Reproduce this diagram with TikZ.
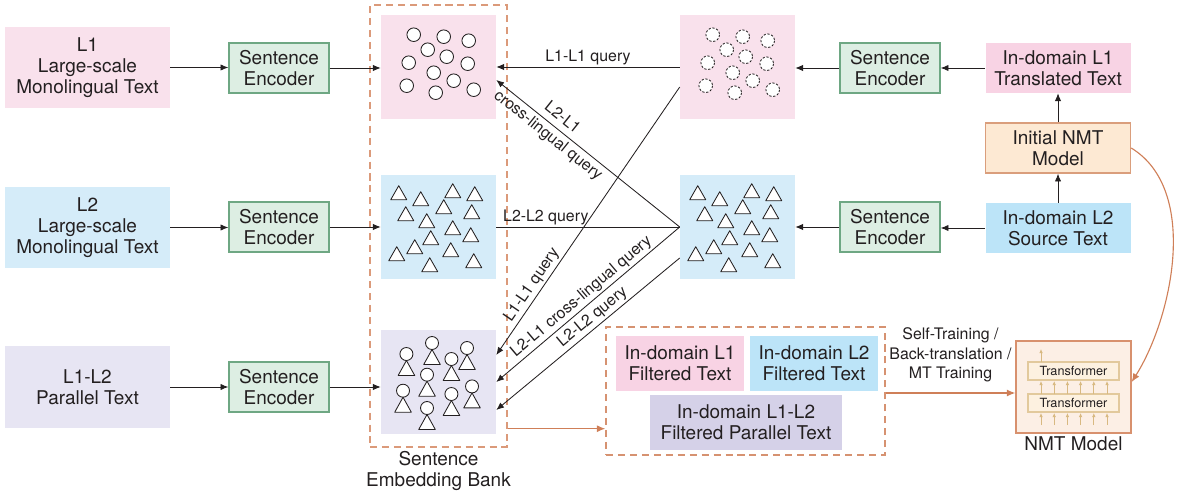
\documentclass[tikz,border=0pt]{standalone}
\usepackage{fontspec}
\setmainfont{TeX Gyre Heros}
\usepackage{xcolor}
\definecolor{ink}{HTML}{231F20}
\definecolor{lonepink}{HTML}{F9E1EC}
\definecolor{ltwoblue}{HTML}{D5ECF9}
\definecolor{parlav}{HTML}{E7E5F3}
\definecolor{indpink}{HTML}{F8D3E4}
\definecolor{indblue}{HTML}{BCE4F8}
\definecolor{indlav}{HTML}{D5D1E8}
\definecolor{encfill}{HTML}{DDEEE3}
\definecolor{encline}{HTML}{6EA783}
\definecolor{initfill}{HTML}{FDE9D3}
\definecolor{initline}{HTML}{DA9E7C}
\definecolor{nmtfill}{HTML}{FCEFE5}
\definecolor{nmtline}{HTML}{D8916E}
\definecolor{trffill}{HTML}{FDF1E0}
\definecolor{trfline}{HTML}{E2C99C}
\definecolor{trfarrow}{HTML}{D8B981}
\definecolor{bankor}{HTML}{DB9A7A}
\definecolor{flowor}{HTML}{CF7F58}
\usepackage{tikz}
\usetikzlibrary{arrows.meta,calc,positioning}

\begin{document}
\begin{tikzpicture}[x=0.025cm,y=-0.025cm,declare function={%
			u=0.025cm;
		}
		]%
		\tikzset{
			box/.style={inner sep=0pt,align=center,text=ink,font=\fontsize{13.5}{15}\selectfont},
			srcbox/.style={box,minimum width=165*u,minimum height=81*u},
			encbox/.style={box,fill=encfill,draw=encline,line width=1pt,minimum width=100*u,minimum height=50*u},
			embbox/.style={inner sep=0pt,minimum width=115*u,minimum height=104*u},
			domainbox/.style={box,minimum width=145*u,minimum height=50*u},
			filtbox/.style={box,minimum width=128*u,minimum height=55*u},
			dashbox/.style={draw=bankor,line width=1pt,dash pattern=on 5pt off 3.5pt,inner sep=0pt},
			arr/.style={draw=ink,line width=0.6pt,-{Latex[length=5.5pt,width=4.5pt]}},
			oarr/.style={draw=flowor,line width=0.8pt,-{Latex[length=6pt,width=5pt]}},
			qlabel/.style={text=ink,inner sep=1.5pt,align=center,font=\fontsize{11.3}{12.5}\selectfont},
			dotcloud/.pic={
				\foreach \a/\b in {33/20,63/22,88/26,47/35,66/42,28/48,87/49,53/58,73/66,26/71,55/78,93/75}{%
					\path[draw=ink,fill=white,line width=0.6pt,pic actions] (\a,\b) circle (6.8);
				}
			},
			tricloud/.pic={
				\foreach \a/\b in {18/20,40/26,72/18,94/21,63/34,25/41,91/39,46/48,72/55,90/62,50/65,34/74,16/81,70/77,49/92,93/88}{%
					\path[shift={(\a,\b)},draw=ink,fill=white,line width=0.6pt,line join=round] (-8,5)--(0,-9)--(8,5)--cycle;
				}
			},
			pairscloud/.pic={
				\foreach \a/\b in {25.7/24.3,51.3/13.3,70.7/29.3,86.3/18.3,46.3/45,22.3/61,70.7/64.3,91.3/56.7,46.3/78.3}{%
					\path[shift={(\a,\b)},draw=ink,fill=white,line width=0.6pt] (0,0) circle (6.5);
					\path[shift={(\a,\b)},draw=ink,fill=white,line width=0.6pt,line join=round] (0,6.5)--(8.3,21.5)--(-8.3,21.5)--cycle;
				}
			}
		}
		\useasboundingbox (0,0) rectangle (1184,491);
		%%%the embedding bank
		\node[dashbox,minimum width=137*u,minimum height=442*u] (bank) at (438.5,226) {};
		\node[box,anchor=north] (banklabel) at ($(bank.south)+(0,3)$) {Sentence\\Embedding Bank};
		\node[embbox,fill=lonepink] (embA) at (438.5,67) {};
		\node[embbox,fill=ltwoblue] (embB) at (438.5,227) {};
		\node[embbox,fill=parlav] (embC) at (438.5,382) {};
		\path (embA.north west) pic {dotcloud};
		\path (embB.north west) pic {tricloud};
		\path (embC.north west) pic {pairscloud};
		%%%left column: corpora and encoders
		\node[srcbox,fill=lonepink] (srcA) at (87.5,67.5) {L1\\Large-scale\\Monolingual Text};
		\node[srcbox,fill=ltwoblue] (srcB) at (87.5,227.5) {L2\\Large-scale\\Monolingual Text};
		\node[srcbox,fill=parlav] (srcC) at (87.5,387) {L1-L2\\Parallel Text};
		\node[encbox] (encA) at (279,68) {Sentence\\Encoder};
		\node[encbox] (encB) at (279,227) {Sentence\\Encoder};
		\node[encbox] (encC) at (279,387) {Sentence\\Encoder};
		\foreach \s/\e/\m in {srcA/encA/embA,srcB/encB/embB,srcC/encC/embC}{%
			\draw[arr] (\s.east) -- (\e.west |- \s.east);
			\draw[arr] (\e.east) -- (\m.west |- \e.east);
		}
		%%%right column: in-domain queries
		\node[embbox,fill=lonepink] (qA) at (737.5,67) {};
		\node[embbox,fill=ltwoblue] (qB) at (737.5,227) {};
		\path (qA.north west) pic[dash pattern=on 1.6pt off 1.2pt] {dotcloud};
		\path (qB.north west) pic {tricloud};
		\node[encbox] (encD) at (890,68) {Sentence\\Encoder};
		\node[encbox] (encE) at (890,227) {Sentence\\Encoder};
		\node[domainbox,fill=indpink] (tgtL1) at (1058,68) {In-domain L1\\Translated Text};
		\node[domainbox,fill=initfill,draw=initline,line width=1pt] (initNMT) at (1058,148) {Initial NMT\\Model};
		\node[domainbox,fill=indblue] (srcL2) at (1058,228) {In-domain L2\\Source Text};
		\draw[arr] (srcL2) -- (initNMT);
		\draw[arr] (initNMT) -- (tgtL1);
		\draw[arr] (tgtL1.west) -- (encD.east |- tgtL1.west);
		\draw[arr] (encD.west) -- (qA.east |- encD.west);
		\draw[arr] (srcL2.west) -- (encE.east |- srcL2.west);
		\draw[arr] (encE.west) -- (qB.east |- encE.west);
		%%%queries into the bank
		\draw[arr] (qA.west) -- node[qlabel,above,pos=0.5] {L1-L1 query} (embA.east);
		\draw[arr] (qB.west) -- node[qlabel,sloped,pos=0.68,font=\fontsize{11.3}{16}\selectfont] {L2-L1\\cross-lingual query} ($(embA.east)+(0,13)$);
		\draw[draw=ink,line width=0.6pt] (qB.west) -- node[qlabel,above,pos=0.73] {L2-L2 query} (embB.east);
		\draw[arr] ($(qA.west)+(0,20)$) -- node[qlabel,sloped,above,pos=0.76] {L1-L1 query} ($(embC.east)+(0,-27)$);
		\draw[arr] (qB.west) -- node[qlabel,sloped,above,pos=0.5] {L2-L1 cross-lingual query} (embC.east);
		\draw[arr] ($(qB.west)+(0,31)$) -- node[qlabel,sloped,above,pos=0.44] {L2-L2 query} ($(embC.east)+(0,28)$);
		%%%filtered in-domain data
		\node[dashbox,draw=flowor!85,minimum width=279*u,minimum height=128*u] (fltbox) at (745.5,391) {};
		\node[filtbox,fill=indpink] (fltA) at (680,363.5) {In-domain L1\\Filtered Text};
		\node[filtbox,fill=indblue] (fltB) at (814,363.5) {In-domain L2\\Filtered Text};
		\node[filtbox,fill=indlav,minimum width=192*u] (fltC) at (746,422.5) {In-domain L1-L2\\Filtered Parallel Text};
		\coordinate (bankout) at ($(bank.south east)+(0,-19)$);
		\draw[oarr] (bankout) -- (bankout -| fltbox.west);
		%%%final NMT model
		\node[box,fill=nmtfill,draw=nmtline,line width=1pt,minimum width=115*u,minimum height=92*u] (nmt) at (1073.5,387) {};
		\node[box,anchor=north,font=\fontsize{13.5}{15}\selectfont] (nmtlabel) at ($(nmt.south)+(0,3)$) {NMT Model};
		\node[box,fill=trffill,draw=trfline,line width=0.8pt,minimum width=91*u,minimum height=18*u,font=\fontsize{9}{10}\selectfont] (trfA) at (1073.5,371) {Transformer};
		\node[box,fill=trffill,draw=trfline,line width=0.8pt,minimum width=91*u,minimum height=18*u,font=\fontsize{9}{10}\selectfont] (trfB) at (1073.5,403) {Transformer};
		\foreach \k in {0,...,5}{%
			\draw[draw=trfarrow,line width=0.5pt,-{Latex[length=3pt,width=2.6pt]}] (1041+13.2*\k,425) -- (1041+13.2*\k,413);
			\draw[draw=trfarrow,line width=0.5pt,-{Latex[length=3pt,width=2.6pt]}] (1041+13.2*\k,394) -- (1041+13.2*\k,381);
		}
		\draw[draw=trfarrow,line width=0.5pt,-{Latex[length=3pt,width=2.6pt]}] (1041,362) -- (1041,349);
		\coordinate (trainin) at ($(nmt.west)+(0,6)$);
		\draw[oarr] (trainin -| fltbox.east) -- node[qlabel,above=6pt,font=\fontsize{11.3}{13.8}\selectfont] {Self-Training /\\Back-translation /\\MT Training} (trainin);
		\draw[oarr] (initNMT.east) .. controls (1200,190) and (1172,318) .. ($(nmt.east)+(0,-5)$);
	\end{tikzpicture}
\end{document}
